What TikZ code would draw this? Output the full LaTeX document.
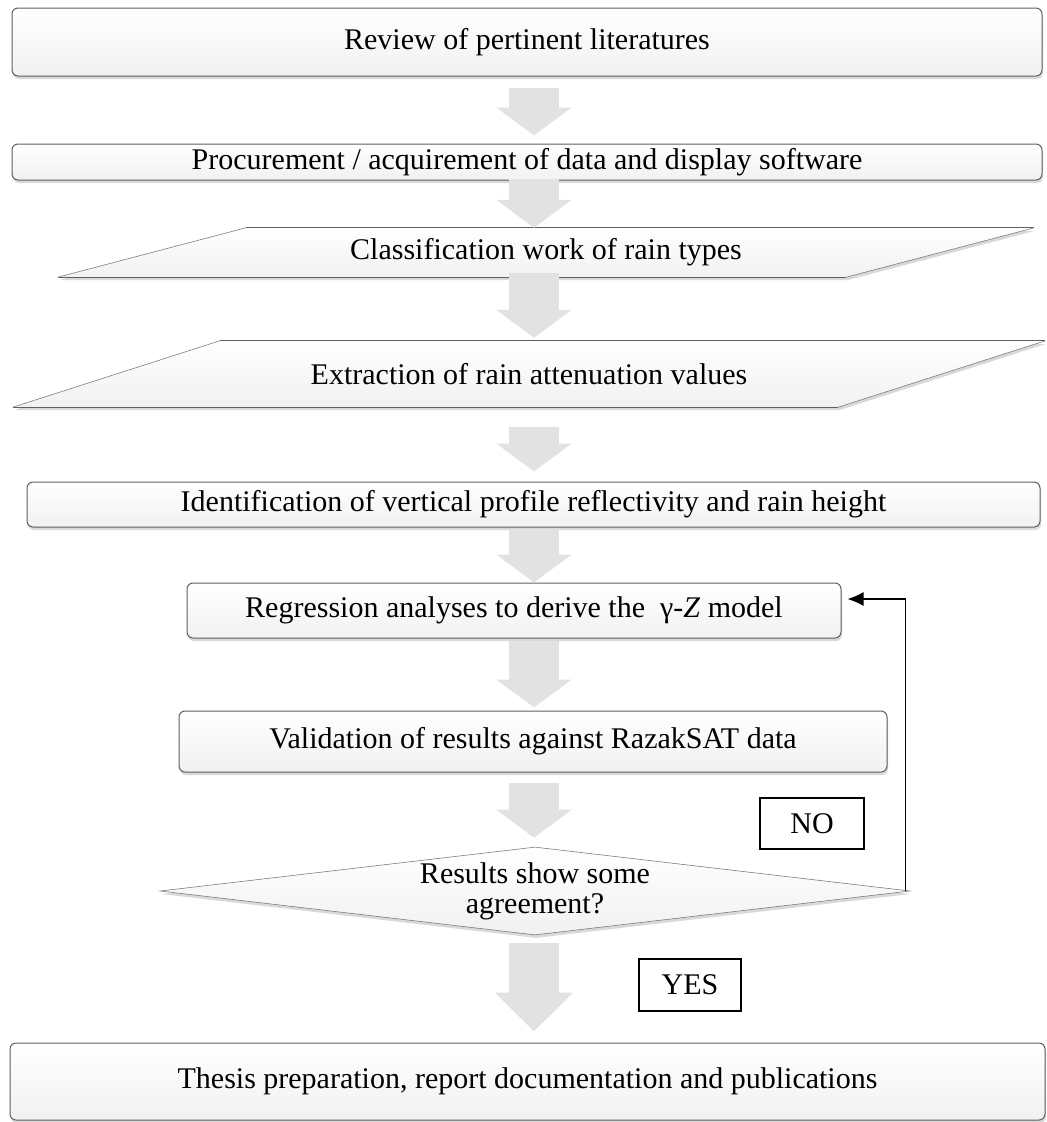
\documentclass[tikz,border=0pt]{standalone}
\usepackage{fontspec}
\setmainfont{Liberation Serif}
\usetikzlibrary{arrows.meta,shapes.geometric,shadows,backgrounds}

\definecolor{flowLine}{RGB}{95,95,95}
\definecolor{flowFill}{RGB}{241,241,241}
\definecolor{flowEdge}{RGB}{125,125,125}
\definecolor{flowArrow}{RGB}{226,226,226}

\begin{document}
\begin{tikzpicture}[x=1pt, y=-1pt,
  every node/.style={font=\fontsize{30}{30}\selectfont, inner sep=0pt},
  flowshadow/.style={drop shadow={shadow xshift=1pt, shadow yshift=-3pt, opacity=0.3}},
  flowbox/.style={draw=flowLine, line width=1pt, rounded corners=6pt, top color=white, bottom color=flowFill, flowshadow},
  paraface/.style={top color=white, bottom color=flowFill, flowshadow},
  paraline/.style={draw=flowLine, line width=1pt},
  paraslant/.style={draw=flowEdge, line width=0.6pt},
  decision/.style={diamond, aspect=8.5, minimum width=750pt, minimum height=88pt, align=center, draw=flowEdge, line width=0.6pt, top color=white, bottom color=flowFill, flowshadow},
  answer/.style={draw=black, line width=1.7pt},
  bigarrow/.style={draw=flowArrow, line width=50pt, -{Triangle[width=74pt, length=28pt]}},
  feedback/.style={line width=1.3pt, -{Latex[length=16pt, width=14pt]}}]
  \useasboundingbox (0,0) rectangle (1047,1122);
  \node[flowbox, minimum width=1030pt, minimum height=68pt] (review) at (527,42) {Review of pertinent literatures};
  \node[flowbox, minimum width=1030pt, minimum height=36pt] (procure) at (527,162) {Procurement / acquirement of data and display software};
  \node[minimum width=788pt, minimum height=49pt] (classify) at (546,252.5) {Classification work of rain types};
  \node[minimum width=825pt, minimum height=66pt] (extract) at (529,374) {Extraction of rain attenuation values};
  \node[flowbox, minimum width=1013pt, minimum height=45pt] (identify) at (533.5,504.5) {Identification of vertical profile reflectivity and rain height};
  \node[flowbox, minimum width=654pt, minimum height=55pt] (regress) at (514,610.5) {Regression analyses to derive the~ γ-\textit{Z} model};
  \node[flowbox, minimum width=708pt, minimum height=61pt] (validate) at (533,741.5) {Validation of results against RazakSAT data};
  \node[decision] (check) at (535,891) {Results show some\\agreement?};
  \node[answer, minimum width=104pt, minimum height=51pt] (no) at (812,823.5) {NO};
  \node[answer, minimum width=102pt, minimum height=52pt] (yes) at (690,985) {YES};
  \node[flowbox, minimum width=1035pt, minimum height=77pt] (thesis) at (527.5,1081.5) {Thesis preparation, report documentation and publications};
  \begin{scope}[on background layer]
    \path[paraface] ([xshift=94pt]classify.north west) -- ([xshift=94pt]classify.north east) -- ([xshift=-94pt]classify.south east) -- ([xshift=-94pt]classify.south west) -- cycle;
    \path[paraface] ([xshift=103.5pt]extract.north west) -- ([xshift=103.5pt]extract.north east) -- ([xshift=-103.5pt]extract.south east) -- ([xshift=-103.5pt]extract.south west) -- cycle;
  \end{scope}
  \draw[paraline] ([xshift=94pt]classify.north west) -- ([xshift=94pt]classify.north east);
  \draw[paraline] ([xshift=-94pt]classify.south west) -- ([xshift=-94pt]classify.south east);
  \draw[paraslant] ([xshift=-94pt]classify.south west) -- ([xshift=94pt]classify.north west);
  \draw[paraslant] ([xshift=-94pt]classify.south east) -- ([xshift=94pt]classify.north east);
  \draw[paraline] ([xshift=103.5pt]extract.north west) -- ([xshift=103.5pt]extract.north east);
  \draw[paraline] ([xshift=-103.5pt]extract.south west) -- ([xshift=-103.5pt]extract.south east);
  \draw[paraslant] ([xshift=-103.5pt]extract.south west) -- ([xshift=103.5pt]extract.north west);
  \draw[paraslant] ([xshift=-103.5pt]extract.south east) -- ([xshift=103.5pt]extract.north east);
  \coordinate (spine) at (534,0);
  \draw[bigarrow, shorten <=11pt, shorten >=8pt] (review.south -| spine) -- (procure.north -| spine);
  \draw[bigarrow, shorten <=-2pt] (procure.south -| spine) -- (classify.north -| spine);
  \draw[bigarrow, shorten <=-4pt, shorten >=3pt] (classify.south -| spine) -- (extract.north -| spine);
  \draw[bigarrow, shorten <=20pt, shorten >=10pt] (extract.south -| spine) -- (identify.north -| spine);
  \draw[bigarrow, shorten <=1pt] (identify.south -| spine) -- (regress.north -| spine);
  \draw[bigarrow, shorten <=2pt, shorten >=3pt] (regress.south -| spine) -- (validate.north -| spine);
  \draw[bigarrow, shorten <=10pt, shorten >=9pt] (validate.south -| spine) -- (check.north -| spine);
  \draw[bigarrow, shorten <=8pt, shorten >=11pt, -{Triangle[width=76pt, length=39pt]}] (check.south -| spine) -- (thesis.north -| spine);
  \draw[feedback] ([xshift=-5pt]check.east) |- ([shift={(6pt,11.5pt)}]regress.east);
\end{tikzpicture}
\end{document}
